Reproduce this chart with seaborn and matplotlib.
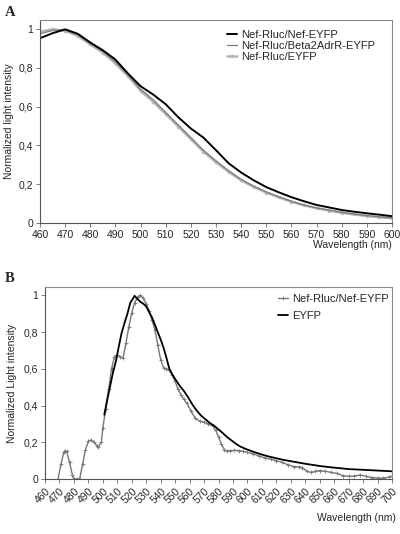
import numpy as np
import pandas as pd
import matplotlib
matplotlib.use("Agg")
import matplotlib.pyplot as plt
import seaborn as sns

# ---------------- Panel A data ----------------
wl_a = [460, 465, 470, 475, 480, 485, 490, 495, 500, 505, 510, 515, 520, 525, 530,
        535, 540, 545, 550, 555, 560, 565, 570, 575, 580, 585, 590, 595, 600]
nef_eyfp_a = [0.952, 0.978, 0.998, 0.975, 0.93, 0.89, 0.842, 0.77, 0.705, 0.662, 0.612,
              0.545, 0.487, 0.44, 0.375, 0.308, 0.26, 0.22, 0.185, 0.158, 0.133, 0.112,
              0.093, 0.08, 0.067, 0.058, 0.05, 0.043, 0.035]
beta2_a = [0.975, 0.992, 0.995, 0.97, 0.925, 0.885, 0.83, 0.765, 0.69, 0.635, 0.57,
           0.505, 0.44, 0.375, 0.32, 0.27, 0.225, 0.19, 0.16, 0.135, 0.112, 0.093,
           0.078, 0.066, 0.055, 0.046, 0.038, 0.032, 0.026]
eyfp_a = [0.985, 0.998, 0.99, 0.965, 0.92, 0.878, 0.822, 0.757, 0.682, 0.625, 0.562,
          0.497, 0.432, 0.368, 0.313, 0.264, 0.22, 0.186, 0.157, 0.132, 0.11, 0.091,
          0.076, 0.064, 0.053, 0.044, 0.036, 0.03, 0.024]
labels_a = ["Nef-Rluc/Nef-EYFP", "Nef-Rluc/Beta2AdrR-EYFP", "Nef-Rluc/EYFP"]

# ---------------- Panel B data ----------------
wl_b_nef = [469, 471, 473, 474, 475, 477, 479, 480, 482, 484, 486, 488, 490, 492, 494,
            496, 497, 499, 500, 502, 504, 506, 508, 510, 512, 514, 516, 518, 520, 522,
            524, 526, 528, 530, 532, 534, 536, 538, 540, 542, 544, 546, 548, 550, 552,
            554, 556, 558, 561, 564, 567, 570, 573, 576, 578, 580, 582, 584, 586, 588,
            591, 594, 597, 600, 604, 608, 612, 616, 620, 624, 628, 632, 636, 638, 641,
            644, 647, 650, 654, 658, 662, 666, 670, 674, 678, 682, 686, 690, 694, 698, 700]
nef_b = [0.0, 0.08, 0.145, 0.155, 0.15, 0.09, 0.02, 0.0, 0.0, 0.0, 0.08, 0.16, 0.205,
         0.213, 0.2, 0.18, 0.177, 0.2, 0.28, 0.38, 0.49, 0.6, 0.665, 0.678, 0.665, 0.66,
         0.74, 0.83, 0.905, 0.96, 0.99, 1.0, 0.985, 0.955, 0.915, 0.865, 0.814, 0.73,
         0.65, 0.605, 0.6, 0.596, 0.565, 0.532, 0.49, 0.46, 0.435, 0.413, 0.37, 0.33,
         0.315, 0.31, 0.3, 0.29, 0.265, 0.23, 0.19, 0.16, 0.152, 0.155, 0.156, 0.155,
         0.15, 0.145, 0.138, 0.125, 0.115, 0.108, 0.1, 0.09, 0.078, 0.068, 0.066, 0.062,
         0.042, 0.036, 0.042, 0.046, 0.042, 0.036, 0.03, 0.018, 0.015, 0.016, 0.022,
         0.015, 0.008, 0.005, 0.005, 0.01, 0.016]
wl_b_eyfp = [501, 503, 505, 507, 509, 511, 513, 515, 517, 519, 521, 522, 524, 526, 528,
             530, 532, 534, 536, 538, 540, 542, 544, 546, 548, 550, 553, 556, 559, 562,
             565, 568, 571, 574, 577, 580, 583, 586, 589, 592, 595, 600, 605, 610, 615,
             620, 625, 630, 635, 640, 645, 650, 655, 660, 665, 670, 675, 680, 685, 690,
             695, 700]
eyfp_b = [0.35, 0.43, 0.504, 0.58, 0.64, 0.72, 0.796, 0.85, 0.9, 0.96, 0.985, 0.998,
          0.98, 0.965, 0.955, 0.94, 0.91, 0.88, 0.84, 0.8, 0.76, 0.715, 0.66, 0.6, 0.57,
          0.545, 0.51, 0.48, 0.445, 0.405, 0.372, 0.345, 0.325, 0.305, 0.29, 0.27, 0.25,
          0.228, 0.21, 0.192, 0.177, 0.16, 0.146, 0.133, 0.122, 0.113, 0.104, 0.097,
          0.09, 0.083, 0.077, 0.071, 0.066, 0.062, 0.058, 0.054, 0.052, 0.05, 0.048,
          0.046, 0.044, 0.042]
labels_b = ["Nef-Rluc/Nef-EYFP", "EYFP"]

yticks = [0, 0.2, 0.4, 0.6, 0.8, 1.0]
ytick_labels = ["0", "0,2", "0,4", "0,6", "0,8", "1"]
xticks_a = list(range(460, 601, 10))
xticks_b = list(range(460, 701, 10))

# ---------------- Style ----------------
sns.set_style("white")
plt.rcParams['font.family'] = ['Liberation Sans', 'DejaVu Sans']
FS = 7.5
spine_col = "#8a8a8a"

fig = plt.figure(figsize=(4.0, 5.34), dpi=100)
axA = fig.add_axes([0.10, 1 - 223 / 534, 0.88, (223 - 20) / 534])
axB = fig.add_axes([0.1125, 1 - 479 / 534, 0.8675, (479 - 287) / 534])

def style_axes(ax, xticks, rot):
    for s in ax.spines.values():
        s.set_color(spine_col)
        s.set_linewidth(0.8)
    ax.spines['left'].set_color("#555555")
    ax.spines['bottom'].set_color("#555555")
    ax.set_yticks(yticks)
    ax.set_yticklabels(ytick_labels)
    ax.set_xticks(xticks)
    ax.set_xticklabels([str(v) for v in xticks], rotation=rot,
                       ha="right" if rot else "center",
                       rotation_mode="anchor" if rot else "default")
    ax.tick_params(axis='both', labelsize=FS, length=3, width=0.6, color="#666666",
                   direction="out", bottom=True, left=True, pad=2)
    ax.grid(False)

# Panel A
dfA = pd.DataFrame({"wl": wl_a * 3,
                    "val": nef_eyfp_a + beta2_a + eyfp_a,
                    "series": [labels_a[0]] * len(wl_a) + [labels_a[1]] * len(wl_a)
                              + [labels_a[2]] * len(wl_a)})
sns.lineplot(data=dfA[dfA.series == labels_a[2]], x="wl", y="val", ax=axA,
             color="#b4b4b4", lw=1.8, marker="o", markersize=2.5, markeredgewidth=0,
             markeredgecolor="#b4b4b4", label=labels_a[2], legend=False)
sns.lineplot(data=dfA[dfA.series == labels_a[1]], x="wl", y="val", ax=axA,
             color="#7a7a7a", lw=0.9, label=labels_a[1], legend=False)
sns.lineplot(data=dfA[dfA.series == labels_a[0]], x="wl", y="val", ax=axA,
             color="black", lw=1.4, label=labels_a[0], legend=False)
axA.set_xlim(460, 600)
axA.set_ylim(0, 1.046)
style_axes(axA, xticks_a, 0)
axA.set_xlabel("")
axA.set_ylabel("Normalized light intensity", fontsize=FS, labelpad=3)
axA.text(1.0, -0.085, "Wavelength (nm)", transform=axA.transAxes, ha="right",
         va="top", fontsize=FS)
h, l = axA.get_legend_handles_labels()
order = [l.index(x) for x in labels_a]
legA = axA.legend([h[i] for i in order], [l[i] for i in order], loc="upper left",
                  bbox_to_anchor=(0.52, 0.975), frameon=False, fontsize=8,
                  handlelength=0.9, handletextpad=0.3, labelspacing=0.1,
                  borderaxespad=0)

# Panel B
dfB = pd.DataFrame({"wl": wl_b_nef + wl_b_eyfp,
                    "val": nef_b + eyfp_b,
                    "series": [labels_b[0]] * len(wl_b_nef) + [labels_b[1]] * len(wl_b_eyfp)})
sns.lineplot(data=dfB[dfB.series == labels_b[0]], x="wl", y="val", ax=axB,
             color="#777777", lw=1.0, marker="+", markersize=3, markeredgewidth=0.6,
             markeredgecolor="#777777", label=labels_b[0], legend=False)
sns.lineplot(data=dfB[dfB.series == labels_b[1]], x="wl", y="val", ax=axB,
             color="black", lw=1.3, label=labels_b[1], legend=False)
axB.set_xlim(460, 700)
axB.set_ylim(0, 1.046)
style_axes(axB, xticks_b, 45)
axB.set_xlabel("")
axB.set_ylabel("Normalized Light intensity", fontsize=FS, labelpad=5)
axB.text(1.01, -0.175, "Wavelength (nm)", transform=axB.transAxes, ha="right",
         va="top", fontsize=FS)
legB = axB.legend(loc="upper left", bbox_to_anchor=(0.66, 0.985), frameon=False,
                  fontsize=8, handlelength=0.9, handletextpad=0.3,
                  labelspacing=0.6, borderaxespad=0)

fig.text(0.012, 0.976, "A", fontsize=10.5, fontweight="bold",
         family="Liberation Serif", va="center")
fig.text(0.012, 0.478, "B", fontsize=10.5, fontweight="bold",
         family="Liberation Serif", va="center")

fig.savefig("out.png", dpi=100)
